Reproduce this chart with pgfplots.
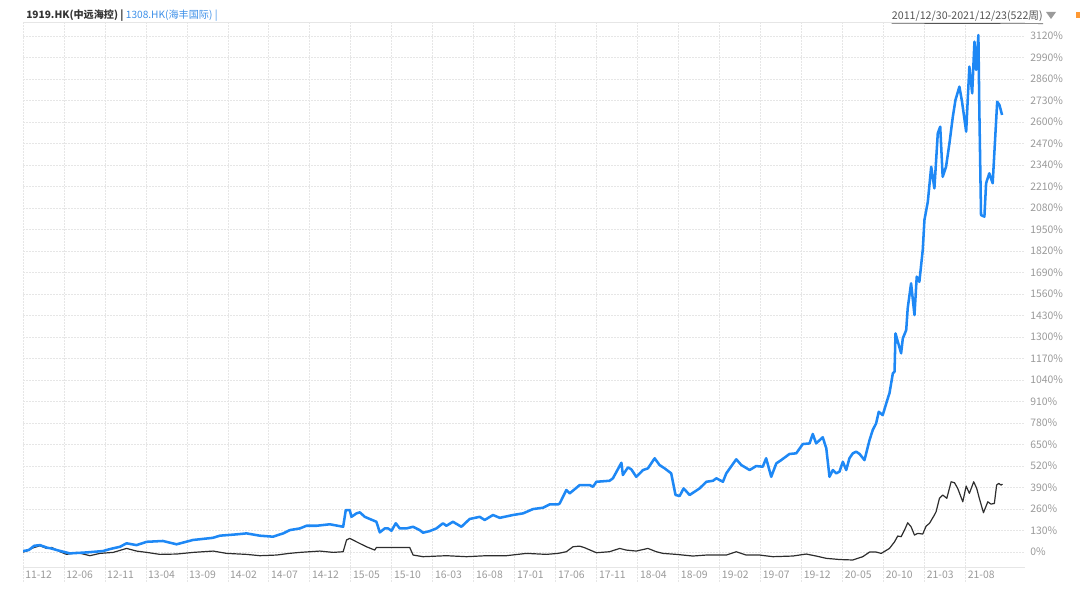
\documentclass[border=0pt]{standalone}
\usepackage{fontspec}
\setmainfont{Noto Sans CJK SC}
\usepackage{pgfplots}
\pgfplotsset{compat=1.18}
\definecolor{blueline}{HTML}{1E88F5}
\definecolor{blackline}{HTML}{2E2E2E}
\definecolor{gridc}{HTML}{E6E6E6}
\definecolor{tickc}{HTML}{9A9A9A}
\definecolor{titleblack}{HTML}{333333}
\definecolor{titleblue}{HTML}{3C8FE8}
\definecolor{datec}{HTML}{555555}
\begin{document}
\begin{tikzpicture}[x=0.75pt,y=0.75pt]
\path[use as bounding box] (0,0) rectangle (1080,598);
\begin{axis}[
  at={(17.25pt,12pt)}, anchor=south west, scale only axis,
  width=751.5pt, height=420pt,
  xmin=0, xmax=533, ymin=-181, ymax=3205,
  axis line style={draw=none},
  major tick length=0pt,
  xtick={0,21.8,43.6,65.4,87.2,109,130.8,152.6,174.4,196.2,218,239.8,261.6,283.4,305.2,327,348.8,370.6,392.4,414.2,436,457.8,479.6,501.4},
  xticklabels={11-12,12-06,12-11,13-04,13-09,14-02,14-07,14-12,15-05,15-10,16-03,16-08,17-01,17-06,17-11,18-04,18-09,19-02,19-07,19-12,20-05,20-10,21-03,21-08},
  ytick={0,130,...,3120},
  yticklabel pos=right,
  yticklabel={\pgfmathprintnumber[fixed,precision=0,1000 sep={}]{\tick}\%},
  /pgf/number format/assume math mode=true,
  grid=major,
  major grid style={gridc, dash pattern=on 1.5pt off 0.75pt, line width=0.6pt},
  xticklabel style={font=\fontsize{7.8}{9}\selectfont, text=tickc, anchor=south west, inner sep=0pt, xshift=1.5pt, yshift=2.2pt},
  yticklabel style={font=\fontsize{7.8}{9}\selectfont, text=tickc, anchor=west, inner sep=0pt, xshift=3.75pt},
]
\draw[gridc, line width=0.6pt] (axis cs:0,-91) -- (axis cs:533,-91);
\draw[gridc, line width=0.6pt] (axis cs:0,3205) -- (axis cs:533,3205);
% 1919.HK
\addplot[blackline, line width=0.9pt, line join=round, no marks] coordinates {
(0,0) (2,6) (5.5,26) (9,38) (12.6,22) (15.3,28) (19.7,2) (23.2,-14) (28.5,-2) (35.6,-22)
(40.9,-8) (48,-2) (55.1,22) (60.4,6) (65.8,-2) (72.8,-14) (81.7,-12) (90.5,-2) (101.2,6) (108.3,-8)
(118.9,-14) (126,-22) (134.9,-18) (141.6,-8) (147.3,-2) (157.9,6) (165,-2) (170.3,2) (172.1,73) (173.8,83)
(177.4,62) (182.7,32) (187.1,12) (188,28) (205.7,28) (207.5,-18) (212.8,-28) (225.2,-22) (235.9,-28) (246.5,-22)
(257.1,-22) (267.8,-8) (278.4,-14) (284.6,-8) (289,2) (292.5,32) (296.1,36) (298.8,26) (305,-4) (312,2)
(317.4,22) (320.9,12) (326.2,6) (332.4,22) (336.9,2) (340.4,-8) (347.5,-14) (356.3,-24) (363.5,-18) (374.1,-18)
(379.4,2) (384.7,-18) (391.8,-18) (398.9,-28) (409.5,-24) (416.6,-12) (421.9,-24) (427.3,-38) (434.3,-45) (441.4,-48)
(446.7,-28) (450.3,0) (453.8,0) (456.5,-8) (460.9,22) (463.6,62) (465.3,97) (467.1,93) (468.9,133) (470.6,177)
(472.4,153) (474.2,103) (476,113) (478.6,109) (480.4,157) (482.2,174) (484.8,224) (485.7,244) (487.5,325) (489.2,345)
(491.4,325) (493.7,425) (495.5,419) (497.2,385) (499.9,304) (501.7,399) (503.4,355) (505.7,425) (507.3,385) (508.7,325)
(510.9,238) (513.2,304) (514.9,290) (516.7,294) (517.9,405) (519,415) (520.3,405) (521,411)
};
% 1308.HK
\addplot[blueline, line width=1.9pt, line join=round, no marks] coordinates {
(0,6) (3,12) (6,38) (9,42) (13,26) (15,22) (18,12) (21.4,2) (25,-8) (34,-2)
(42.5,6) (46.2,18) (51.6,32) (55.1,53) (60.4,42) (65.8,62) (74.4,67) (81.7,47) (90.4,73) (101,86)
(104.7,99) (113.6,107) (118.9,113) (126,99) (133,93) (138.4,113) (142,133) (147.3,143) (150.8,159) (156.1,159)
(163.2,168) (170.3,153) (171.7,254) (173.8,254) (174.7,213) (177.4,234) (179.2,240) (181.8,213) (188,183) (189.8,119)
(192.4,143) (194.2,143) (196,129) (198.3,174) (200.4,143) (204,143) (207.5,153) (211,133) (212.8,117) (216.4,127)
(219.9,143) (223.4,174) (225.2,159) (228.7,183) (233.2,153) (237.6,200) (242.9,213) (245.6,194) (250,224) (253.6,207)
(260.6,224) (266,234) (271.3,260) (276.6,268) (280.1,288) (284.6,288) (285.5,294) (289,375) (290.8,355) (296.1,405)
(301.4,405) (303.2,395) (305,425) (312,431) (313.8,446) (318.3,540) (319.1,466) (321.8,512) (323.6,500) (326.2,455)
(329.8,496) (332.4,506) (336,567) (338.6,526) (341.3,506) (344.8,476) (347.1,345) (349.3,339) (351.4,385) (354.6,345)
(359.9,385) (363.5,425) (367,431) (368.8,446) (372.3,425) (374.1,476) (379.4,561) (382.1,526) (386.5,496) (390,520)
(393.5,516) (395.3,567) (398,455) (400.7,536) (403.3,556) (407.7,593) (411.3,597) (414.8,653) (418.4,657) (420.1,714)
(421.9,657) (425.4,694) (427.3,627) (429,455) (430.8,496) (432.6,476) (434.3,486) (436.1,546) (437.9,496) (439.6,567)
(441.4,597) (443.2,607) (445,593) (447.6,556) (450.3,677) (452,738) (453.8,778) (455.2,848) (457.3,828) (460,929)
(460.9,960) (462.7,1081) (463.6,1090) (464.1,1322) (467.1,1202) (468,1292) (469.8,1342) (470.6,1474) (472.4,1625) (474.2,1433)
(475.4,1665) (476.8,1634) (478.6,1826) (479.5,2008) (481.3,2118) (483.1,2330) (484.8,2199) (486.6,2532) (487.9,2572) (489.2,2269)
(491,2330) (492.8,2471) (494.6,2632) (496,2733) (498.1,2814) (499.5,2723) (501.7,2542) (503.4,2935) (504.9,2774) (506.1,3086)
(507,2915) (508.2,3126) (508.7,2678) (509.6,2038) (511.4,2028) (512.3,2230) (514,2290) (515.8,2230) (518.2,2723) (519.4,2703)
(520.8,2643)
};
\end{axis}
% title
\node[anchor=base west, inner sep=0pt, font=\fontsize{7.6}{10}\selectfont] at (26,579)
  {\textcolor{titleblack}{\bfseries 1919.HK(中远海控) |} \textcolor{titleblue}{1308.HK(海丰国际) |}};
\node[anchor=base east, inner sep=0pt, font=\fontsize{8}{10}\selectfont, text=datec] (dt) at (1043,578)
  {2011/12/30-2021/12/23(522周)};
\draw[datec, line width=0.5pt] (dt.south west) ++(0,-1) -- ([yshift=-1pt]dt.south east);
\fill[tickc] (1046,586) -- (1056,586) -- (1051,579) -- cycle;
\fill[orange!80] (1076,580) rectangle (1080,586);
\end{tikzpicture}
\end{document}
